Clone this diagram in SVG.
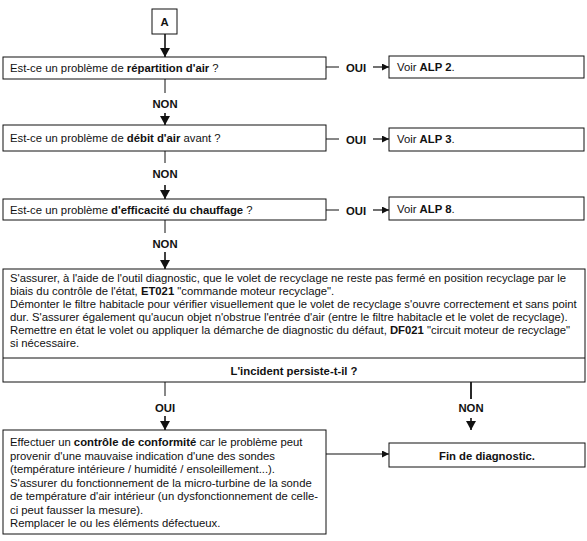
<svg xmlns="http://www.w3.org/2000/svg" width="587" height="541" viewBox="0 0 587 541">
<defs>
<marker id="ah" markerUnits="userSpaceOnUse" markerWidth="11" markerHeight="11" refX="9" refY="5" orient="auto"><path d="M0,0 L9,5 L0,10 z" fill="#111"/></marker>
<marker id="ahs" markerUnits="userSpaceOnUse" markerWidth="8" markerHeight="8" refX="7" refY="3.5" orient="auto"><path d="M0,0 L7,3.5 L0,7 z" fill="#111"/></marker>
<style>
rect{fill:#fff;stroke:#111;stroke-width:1}
text{font-family:"Liberation Sans",Arial,sans-serif;font-size:11.3px;fill:#111}
.b{font-weight:bold}
.c{text-anchor:middle}
.l{fill:none;stroke:#111;stroke-width:1}
.a{fill:none;stroke:#111;stroke-width:1.6;marker-end:url(#ah)}
.h{fill:none;stroke:#111;stroke-width:1.2;marker-end:url(#ahs)}
</style>
</defs>
<rect x="0" y="0" width="587" height="541" style="fill:#fff;stroke:none"/>
<g id="connectors">
<path class="a" d="M165,34 V57"/>
<path class="l" d="M165,79 V93"/>
<text class="b c" x="165" y="108">NON</text>
<path class="a" d="M165,113 V125"/>
<path class="l" d="M165,151 V163"/>
<text class="b c" x="165" y="178">NON</text>
<path class="a" d="M165,185 V199"/>
<path class="l" d="M165,220 V233"/>
<text class="b c" x="165" y="248">NON</text>
<path class="a" d="M165,252 V269"/>
<path class="l" d="M165,382 V396"/>
<text class="b c" x="165" y="412">OUI</text>
<path class="a" d="M165,416 V430"/>
<path class="l" style="stroke-width:1.8" d="M471,382 V399"/>
<text class="b c" x="471" y="412">NON</text>
<path class="a" d="M471,418 V430"/>
<path class="l" d="M326,67 H339"/>
<text class="b c" x="356" y="72">OUI</text>
<path class="h" d="M373,67 H389"/>
<path class="l" d="M326,139 H339"/>
<text class="b c" x="356" y="144">OUI</text>
<path class="h" d="M373,139 H389"/>
<path class="l" d="M326,210 H339"/>
<text class="b c" x="356" y="215">OUI</text>
<path class="h" d="M373,210 H389"/>
<path class="h" d="M326,454 H389"/>
</g>
<g id="nodeA">
<rect x="152" y="9" width="25" height="25"/>
<text class="b c" x="164.5" y="26">A</text>
</g>
<g id="q1">
<rect x="3" y="57" width="323" height="22"/>
<text x="10" y="72">Est-ce un problème de <tspan class="b">répartition d'air</tspan> ?</text>
</g>
<g id="r1">
<rect x="389" y="56" width="195" height="22"/>
<text x="397" y="71">Voir <tspan class="b">ALP 2</tspan>.</text>
</g>
<g id="q2">
<rect x="3" y="125" width="323" height="26"/>
<text x="10" y="142">Est-ce un problème de <tspan class="b">débit d'air</tspan> avant ?</text>
</g>
<g id="r2">
<rect x="389" y="128" width="195" height="23"/>
<text x="397" y="143">Voir <tspan class="b">ALP 3</tspan>.</text>
</g>
<g id="q3">
<rect x="3" y="199" width="323" height="21"/>
<text x="10" y="214">Est-ce un problème <tspan class="b">d'efficacité du chauffage</tspan> ?</text>
</g>
<g id="r3">
<rect x="389" y="197" width="195" height="23"/>
<text x="397" y="213">Voir <tspan class="b">ALP 8</tspan>.</text>
</g>
<g id="check">
<rect x="3" y="269" width="582" height="113"/>
<path class="l" d="M3,358 H585"/>
<text x="10" y="282">S'assurer, à l'aide de l'outil diagnostic, que le volet de recyclage ne reste pas fermé en position recyclage par le</text>
<text x="10" y="295">biais du contrôle de l'état, <tspan class="b">ET021</tspan> "commande moteur recyclage".</text>
<text x="10" y="308">Démonter le filtre habitacle pour vérifier visuellement que le volet de recyclage s'ouvre correctement et sans point</text>
<text x="10" y="321">dur. S'assurer également qu'aucun objet n'obstrue l'entrée d'air (entre le filtre habitacle et le volet de recyclage).</text>
<text x="10" y="334">Remettre en état le volet ou appliquer la démarche de diagnostic du défaut, <tspan class="b">DF021</tspan> "circuit moteur de recyclage"</text>
<text x="10" y="347">si nécessaire.</text>
<text class="b c" x="294" y="375">L'incident persiste-t-il ?</text>
</g>
<g id="conform">
<rect x="3" y="430" width="323" height="104"/>
<text x="10" y="446">Effectuer un <tspan class="b">contrôle de conformité</tspan> car le problème peut</text>
<text x="10" y="459.5">provenir d'une mauvaise indication d'une des sondes</text>
<text x="10" y="473">(température intérieure / humidité / ensoleillement...).</text>
<text x="10" y="486.5">S'assurer du fonctionnement de la micro-turbine de la sonde</text>
<text x="10" y="500">de température d'air intérieur (un dysfonctionnement de celle-</text>
<text x="10" y="513.5">ci peut fausser la mesure).</text>
<text x="10" y="527">Remplacer le ou les éléments défectueux.</text>
</g>
<g id="fin">
<rect x="389" y="443" width="196" height="24"/>
<text class="b c" x="487" y="460">Fin de diagnostic.</text>
</g>
</svg>
